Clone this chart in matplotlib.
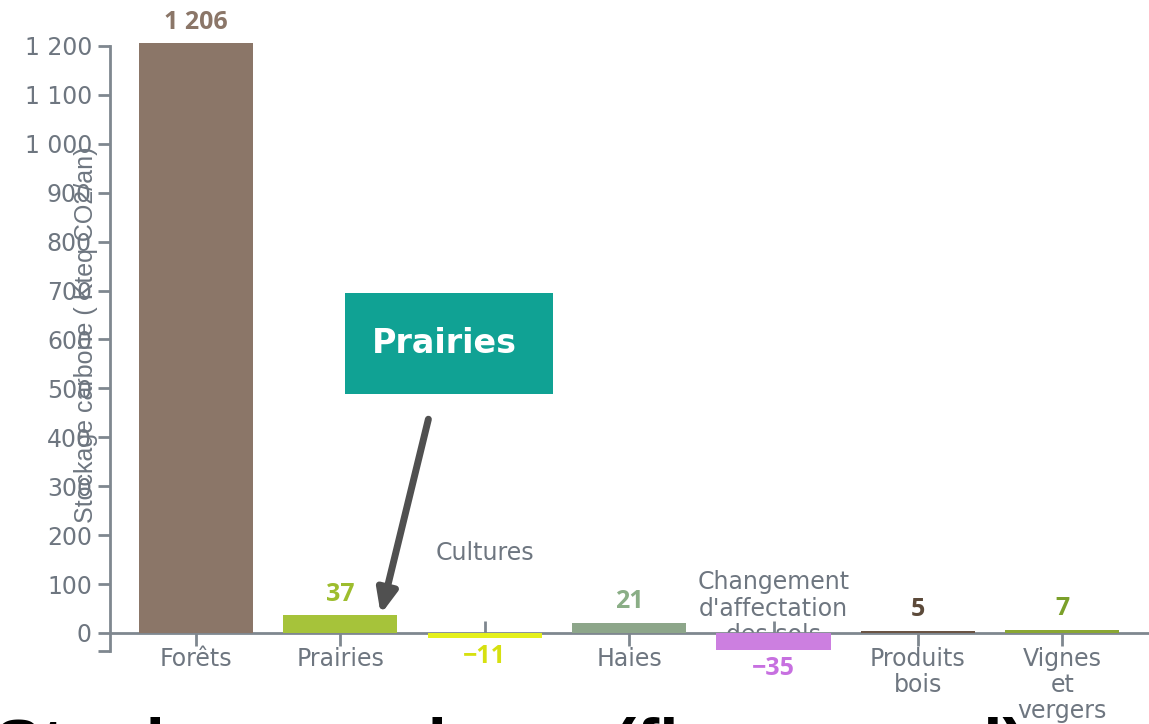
import matplotlib
matplotlib.use('Agg')
import matplotlib.pyplot as plt
from matplotlib.patches import Rectangle
from matplotlib import lines as mlines

categories = ['Forêts', 'Prairies', 'Cultures', 'Haies',
              "Changement\nd'affectation\ndes sols", 'Produits\nbois', 'Vignes\net\nvergers']
values = [1206, 37, -11, 21, -35, 5, 7]
value_labels = ['1 206', '37', '−11', '21', '−35', '5', '7']
bar_colors = ['#8b7668', '#a6c33a', '#e4f01c', '#8da68a', '#cc7fe0', '#6a5444', '#8aa733']
label_colors = ['#8b7668', '#9dbd2e', '#d6e010', '#8aae86', '#c770e0', '#5c4a3a', '#7ba02a']
y_ticks = list(range(0, 1300, 100))
y_tick_labels = ['0', '100', '200', '300', '400', '500', '600', '700', '800', '900',
                 '1 000', '1 100', '1 200']
y_label = 'Stockage carbone ( Kteq CO2/an)'
callout = 'Prairies'
bottom_title = 'Stockage carbone (flux annuel)'

grey = '#6e7680'
axis_grey = '#7f878f'
lab_font = 'DejaVu Sans'

fig = plt.figure(figsize=(11.49, 7.24), dpi=100)
ax = fig.add_axes([0.0957, 0.1014, 0.9043, 0.8351])

x = list(range(len(categories)))
bars = ax.bar(x, values, width=0.79, color=bar_colors, zorder=3, clip_on=False)

ax.set_xlim(-0.595, 6.6)
ax.set_ylim(-36, 1200)

# spines
for s in ['top', 'right']:
    ax.spines[s].set_visible(False)
ax.spines['bottom'].set_position(('data', 0))
ax.spines['bottom'].set_color(axis_grey)
ax.spines['bottom'].set_linewidth(2)
ax.spines['bottom'].set_zorder(2)
ax.spines['left'].set_color(axis_grey)
ax.spines['left'].set_linewidth(2)

ax.set_yticks(y_ticks)
ax.set_yticklabels(y_tick_labels, fontsize=17, color=grey, family=lab_font)
ax.set_yticks([-36], minor=True)
ax.tick_params(axis='y', which='both', length=9, width=2, color=axis_grey, pad=4)

# x ticks: labels drawn as text, negative bars get upward ticks
ax.set_xticks(x)
ax.set_xticklabels([])
ax.tick_params(axis='x', length=9, width=2, color=axis_grey)
for i, tick in enumerate(ax.xaxis.get_major_ticks()):
    if values[i] < 0:
        tick.tick1line.set_marker(mlines.TICKUP)
    tick.tick1line.set_zorder(1)

for i, cat in enumerate(categories):
    if i == 2:
        ax.text(i, 163, cat, ha='center', va='center', fontsize=17, color=grey,
                family=lab_font, zorder=1)
    elif i == 4:
        # last line sits behind the bar, as in the original
        ax.text(i, 50, cat, ha='center', va='center', fontsize=17, color=grey,
                family=lab_font, linespacing=1.12, zorder=1)
    else:
        ax.annotate(cat, (i, 0), xytext=(0, -10), textcoords='offset points',
                    ha='center', va='top', fontsize=17, color=grey,
                    family=lab_font, linespacing=1.1)

# value labels
for i, v in enumerate(values):
    if v >= 0:
        ax.annotate(value_labels[i], (i, v), xytext=(0, 6), textcoords='offset points',
                    ha='center', va='bottom', fontsize=18, fontweight='bold',
                    color=label_colors[i], family='Open Sans', annotation_clip=False)
    else:
        ax.annotate(value_labels[i], (i, v), xytext=(0, -4), textcoords='offset points',
                    ha='center', va='top', fontsize=18, fontweight='bold',
                    color=label_colors[i], family='Open Sans', annotation_clip=False)

ax.text(-0.023, 0.522, y_label, transform=ax.transAxes, rotation=90, ha='center',
        va='center', fontsize=18, color=grey, family='Liberation Sans')

# callout box with arrow
ax.add_patch(Rectangle((1.031, 489), 1.44, 206, facecolor='#10a294', edgecolor='none',
                       zorder=4, clip_on=False))
ax.text(1.72, 592, callout, ha='center', va='center', fontsize=24, fontweight='bold',
        color='white', family=lab_font, zorder=5)
ax.annotate('', xy=(1.28, 38), xytext=(1.61, 437),
            arrowprops=dict(arrowstyle='-|>,head_width=0.6,head_length=1.4',
                            color='#505050', lw=5, shrinkA=0, shrinkB=0), zorder=5)

# big heading of the next slide, cut by the bottom edge
fig.text(-0.004, -0.059, bottom_title, ha='left', va='baseline', fontsize=50,
         fontweight='bold', color='black', family='Liberation Sans')

fig.savefig('out.png', dpi=100)
